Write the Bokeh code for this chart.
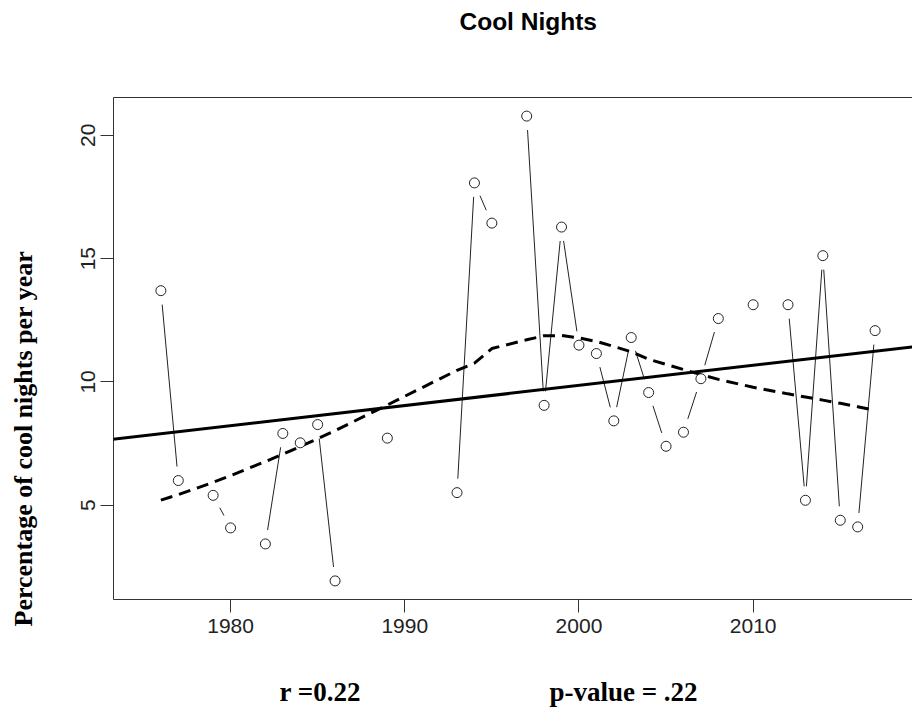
import math
import numpy as np
from bokeh.plotting import figure
from bokeh.models import Range1d, FixedTicker, LinearAxis, Slope, Title
from bokeh.embed import file_html
from bokeh.resources import INLINE

# ---------------- data ----------------
title_text = "Cool Nights"
y_label_text = "Percentage of cool nights per year"
r_text = "r =0.22"
p_text = "p-value = .22"

NA = float("nan")
years = list(range(1976, 2018))
values = [13.7, 6.0, NA, 5.4, 4.08, NA, 3.43, 7.91, 7.53, 8.27,
          1.93, NA, NA, 7.72, NA, NA, NA, 5.51, 18.07, 16.44,
          NA, 20.78, 9.05, 16.28, 11.49, 11.15, 8.42, 11.80, 9.57, 7.39,
          7.96, 10.13, 12.57, NA, 13.13, NA, 13.13, 5.20, 15.12, 4.39,
          4.12, 12.08]
x_ticks = [1980, 1990, 2000, 2010]
y_ticks = [5, 10, 15, 20]

# ---------------- layout ----------------
W, H = 912, 708
FL, FT, FB = 113, 97, 109
FW, FH = W - FL, H - FT - FB

yrs = np.array(years, dtype=float)
vals = np.array(values, dtype=float)
ok = ~np.isnan(vals)
xv, yv = yrs[ok], vals[ok]

X0 = 1973.28
X1 = X0 + FW / 17.42
yr = yv.max() - yv.min()
Y0, Y1 = yv.min() - 0.04 * yr, yv.max() + 0.04 * yr

ppx = FW / (X1 - X0)
ppy = FH / (Y1 - Y0)


# ---------------- lowess (port of R clowess) ----------------
def lowest(x, y, xs, nleft, nright, rw, userw):
    n = len(x)
    rng = x[-1] - x[0]
    h = max(xs - x[nleft], x[nright] - xs)
    h9, h1 = 0.999 * h, 0.001 * h
    w = np.zeros(n)
    a = 0.0
    j = nleft
    while j < n:
        r = abs(x[j] - xs)
        if r <= h9:
            w[j] = 1.0 if r <= h1 else (1 - (r / h) ** 3) ** 3
            if userw:
                w[j] *= rw[j]
            a += w[j]
        elif x[j] > xs:
            break
        j += 1
    nrt = j - 1
    if a <= 0:
        return None
    sl = slice(nleft, nrt + 1)
    w[sl] /= a
    if h > 0:
        a = np.sum(w[sl] * x[sl])
        b = xs - a
        c = np.sum(w[sl] * (x[sl] - a) ** 2)
        if math.sqrt(c) > 0.001 * rng:
            b /= c
            w[sl] *= (b * (x[sl] - a) + 1)
    return float(np.sum(w[sl] * y[sl]))


def lowess(x, y, f=2 / 3, iters=3):
    n = len(x)
    ns = max(2, min(n, int(f * n + 1e-7)))
    rw = np.ones(n)
    ys = np.zeros(n)
    for it in range(iters + 1):
        nleft, nright = 0, ns - 1
        for i in range(n):
            while nright < n - 1:
                d1 = x[i] - x[nleft]
                d2 = x[nright + 1] - x[i]
                if d1 <= d2:
                    break
                nleft += 1
                nright += 1
            v = lowest(x, y, x[i], nleft, nright, rw, it > 0)
            ys[i] = y[i] if v is None else v
        res = y - ys
        if it == iters:
            break
        r = np.abs(res)
        cmad = 6 * np.median(r)
        if cmad < 1e-7 * np.mean(np.abs(y)):
            break
        c9, c1 = 0.999 * cmad, 0.001 * cmad
        rw = np.where(r <= c1, 1.0, np.where(r <= c9, (1 - (r / cmad) ** 2) ** 2, 0.0))
    return ys


smooth = lowess(xv, yv)
slope, intercept = np.polyfit(xv, yv, 1)

# ---------------- connecting segments with gaps (type = "b") ----------------
GAP = 14.0
sx0, sy0, sx1, sy1 = [], [], [], []
for i in range(len(yrs) - 1):
    if np.isnan(vals[i]) or np.isnan(vals[i + 1]):
        continue
    dx = (yrs[i + 1] - yrs[i]) * ppx
    dy = (vals[i + 1] - vals[i]) * ppy
    L = math.hypot(dx, dy)
    if L <= 2 * GAP:
        continue
    fx = GAP / L
    sx0.append(yrs[i] + (yrs[i + 1] - yrs[i]) * fx)
    sy0.append(vals[i] + (vals[i + 1] - vals[i]) * fx)
    sx1.append(yrs[i + 1] - (yrs[i + 1] - yrs[i]) * fx)
    sy1.append(vals[i + 1] - (vals[i + 1] - vals[i]) * fx)

# ---------------- figure ----------------
p = figure(width=W, height=H, x_range=Range1d(X0, X1), y_range=Range1d(Y0, Y1),
           output_backend="svg", toolbar_location=None,
           min_border_left=FL, min_border_right=0, min_border_top=FT,
           min_border_bottom=FB)
p.outline_line_color = None
p.xgrid.visible = False
p.ygrid.visible = False
p.background_fill_color = "white"
p.border_fill_color = "white"

AX = "#333333"
for ax in (p.xaxis[0], p.yaxis[0]):
    ax.axis_line_color = AX
    ax.axis_line_width = 1
    ax.major_tick_line_color = AX
    ax.major_tick_out = 13
    ax.major_tick_in = 0
    ax.minor_tick_line_color = None
    ax.major_label_text_font = "Liberation Sans"
    ax.major_label_text_font_size = "21px"
    ax.major_label_text_color = "#222222"

p.xaxis[0].ticker = FixedTicker(ticks=x_ticks)
p.xaxis[0].major_label_standoff = 6
p.yaxis[0].ticker = FixedTicker(ticks=y_ticks)
p.yaxis[0].major_label_orientation = "vertical"
p.yaxis[0].major_label_standoff = 5


def spacer_axis(size, tick, line_color=None):
    # an axis with one invisible tick: only its tick room is used, as spacing
    return LinearAxis(ticker=FixedTicker(ticks=[tick]), axis_line_color=line_color,
                      major_tick_line_color="white", major_tick_line_alpha=0,
                      minor_tick_line_color=None,
                      major_tick_out=size, major_tick_in=0, major_label_standoff=0,
                      major_label_overrides={tick: ""},
                      major_label_text_font_size="1px",
                      major_label_text_alpha=0)


# top border of the box (its invisible tick room pushes the title up)
p.add_layout(spacer_axis(63, x_ticks[2], AX), "above")
p.add_layout(spacer_axis(38, y_ticks[1]), "left")
p.add_layout(spacer_axis(39, x_ticks[2]), "below")

# title (outermost in the top panel)
p.title.text = title_text
p.title.align = "left"
p.title.offset = 346
p.title.standoff = 0
p.title.text_font = "Liberation Sans"
p.title.text_font_style = "bold"
p.title.text_font_size = "24.5px"
p.title.text_color = "black"

# y label as a left-side title
p.add_layout(Title(text=y_label_text, align="left", offset=-27, standoff=6,
                   text_font="Liberation Serif", text_font_style="bold",
                   text_font_size="26px", text_color="black"), "left")

# bottom statistics line
NBSP = "\u00a0"
p.add_layout(Title(text=r_text + NBSP * 28 + p_text, align="left", offset=166,
                   standoff=0, text_font="Liberation Serif", text_font_style="bold",
                   text_font_size="27px", text_color="black"), "below")

# point-to-point lines
p.segment(sx0, sy0, sx1, sy1, line_color="#222222", line_width=1)

# regression line
p.add_layout(Slope(gradient=slope, y_intercept=intercept, line_color="black",
                   line_width=3))

# lowess smooth
p.line(xv, smooth, line_color="black", line_width=3, line_dash="12 7")

# points
p.scatter(xv, yv, size=10, fill_color="white", line_color="#222222", line_width=1)

open("out.html", "w").write(file_html(p, INLINE))
